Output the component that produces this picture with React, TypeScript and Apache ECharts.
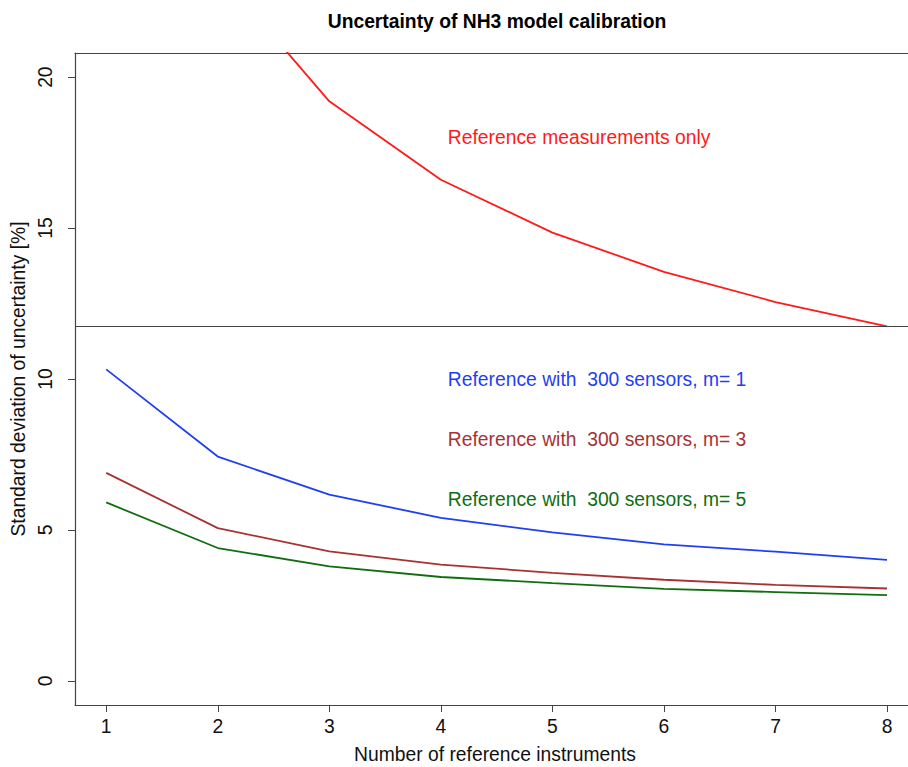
import React, { useEffect, useRef } from "react";
import * as echarts from "echarts";

const instruments = [1, 2, 3, 4, 5, 6, 7, 8];
const refOnly = [33.2, 23.5, 19.2, 16.6, 14.85, 13.55, 12.55, 11.74];
const sensorsM1 = [10.32, 7.43, 6.17, 5.4, 4.92, 4.52, 4.28, 4.01];
const sensorsM3 = [6.89, 5.06, 4.29, 3.85, 3.58, 3.35, 3.18, 3.06];
const sensorsM5 = [5.91, 4.4, 3.79, 3.44, 3.24, 3.05, 2.94, 2.84];
const yTicks = [0, 5, 10, 15, 20];
const refLineValue = 11.74;

const labels = [
  { text: "Reference measurements only", x: 4, y: 18 },
  { text: "Reference with  300 sensors, m= 1", x: 4, y: 10 },
  { text: "Reference with  300 sensors, m= 3", x: 4, y: 8 },
  { text: "Reference with  300 sensors, m= 5", x: 4, y: 6 },
];

const colors = ["#ff1a1a", "#1f3ff2", "#a83232", "#106e10"];
const FONT = "'Liberation Sans', Arial, Helvetica, sans-serif";
const FS = 19.3;
const AXIS = "#444";

export default function App() {
  const ref = useRef<HTMLDivElement>(null);
  useEffect(() => {
    if (!ref.current) return;
    const chart = echarts.init(ref.current, undefined, { renderer: "svg" });
    const seriesData = [refOnly, sensorsM1, sensorsM3, sensorsM5];
    const series: any[] = seriesData.map((vals, i) => ({
      type: "line",
      xAxisIndex: 0,
      data: instruments.map((x, j) => [x, vals[j]]),
      showSymbol: false,
      symbol: "none",
      clip: true,
      lineStyle: { color: colors[i], width: 1.8 },
      markPoint: {
        symbol: "circle",
        symbolSize: 0,
        silent: true,
        data: [
          {
            coord: [labels[i].x, labels[i].y],
            label: {
              show: true,
              position: "right",
              offset: [2, 0],
              formatter: labels[i].text,
              color: colors[i],
              fontSize: FS,
              fontFamily: FONT,
            },
          },
        ],
      },
      ...(i === 0
        ? {
            markLine: {
              silent: true,
              symbol: "none",
              label: { show: false },
              lineStyle: { color: AXIS, width: 1.2, type: "solid" },
              data: [{ yAxis: refLineValue }],
            },
          }
        : {}),
    }));

    const xRange = { min: 0.72, max: 8.188 };

    chart.setOption({
      animation: false,
      backgroundColor: "#ffffff",
      title: {
        text: "Uncertainty of NH3 model calibration",
        left: 492,
        top: 7,
        textAlign: "center",
        textStyle: {
          fontFamily: FONT,
          fontWeight: "bold",
          fontSize: FS,
          color: "#000",
        },
      },
      grid: {
        left: 75,
        top: 53,
        right: 0,
        bottom: 62,
        show: false,
        outerBoundsMode: "none",
        containLabel: false,
      },
      xAxis: [
        {
          type: "value",
          ...xRange,
          name: "Number of reference instruments",
          nameLocation: "middle",
          nameGap: 40,
          nameTextStyle: {
            fontFamily: FONT,
            fontSize: FS,
            color: "#111",
            padding: [0, 0, 0, 7],
          },
          splitLine: { show: false },
          axisLine: { show: true, onZero: false, lineStyle: { color: AXIS, width: 1.2 } },
          axisTick: {
            show: true,
            length: 7,
            customValues: instruments,
            lineStyle: { color: AXIS },
          },
          axisLabel: {
            customValues: instruments,
            fontFamily: FONT,
            fontSize: FS,
            color: "#111",
            margin: 12,
          },
        },
        {
          type: "value",
          position: "top",
          ...xRange,
          splitLine: { show: false },
          axisLine: { show: true, onZero: false, lineStyle: { color: AXIS, width: 1.2 } },
          axisTick: { show: false },
          axisLabel: { show: false },
        },
      ],
      yAxis: {
        type: "value",
        min: -0.8,
        max: 20.8,
        name: "Standard deviation of uncertainty [%]",
        nameLocation: "middle",
        nameRotate: 90,
        nameGap: 47,
        nameTextStyle: { fontFamily: FONT, fontSize: FS, color: "#111" },
        splitLine: { show: false },
        axisLine: { show: true, onZero: false, lineStyle: { color: AXIS, width: 1.2 } },
        axisTick: {
          show: true,
          length: 7,
          customValues: yTicks,
          lineStyle: { color: AXIS },
        },
        axisLabel: {
          customValues: yTicks,
          rotate: 90,
          fontFamily: FONT,
          fontSize: FS,
          color: "#111",
          margin: 20,
        },
      },
      series,
    });
    return () => chart.dispose();
  }, []);
  return (
    <div
      ref={ref}
      style={{ position: "fixed", left: 0, top: 0, width: 908, height: 767, background: "#fff" }}
    />
  );
}
